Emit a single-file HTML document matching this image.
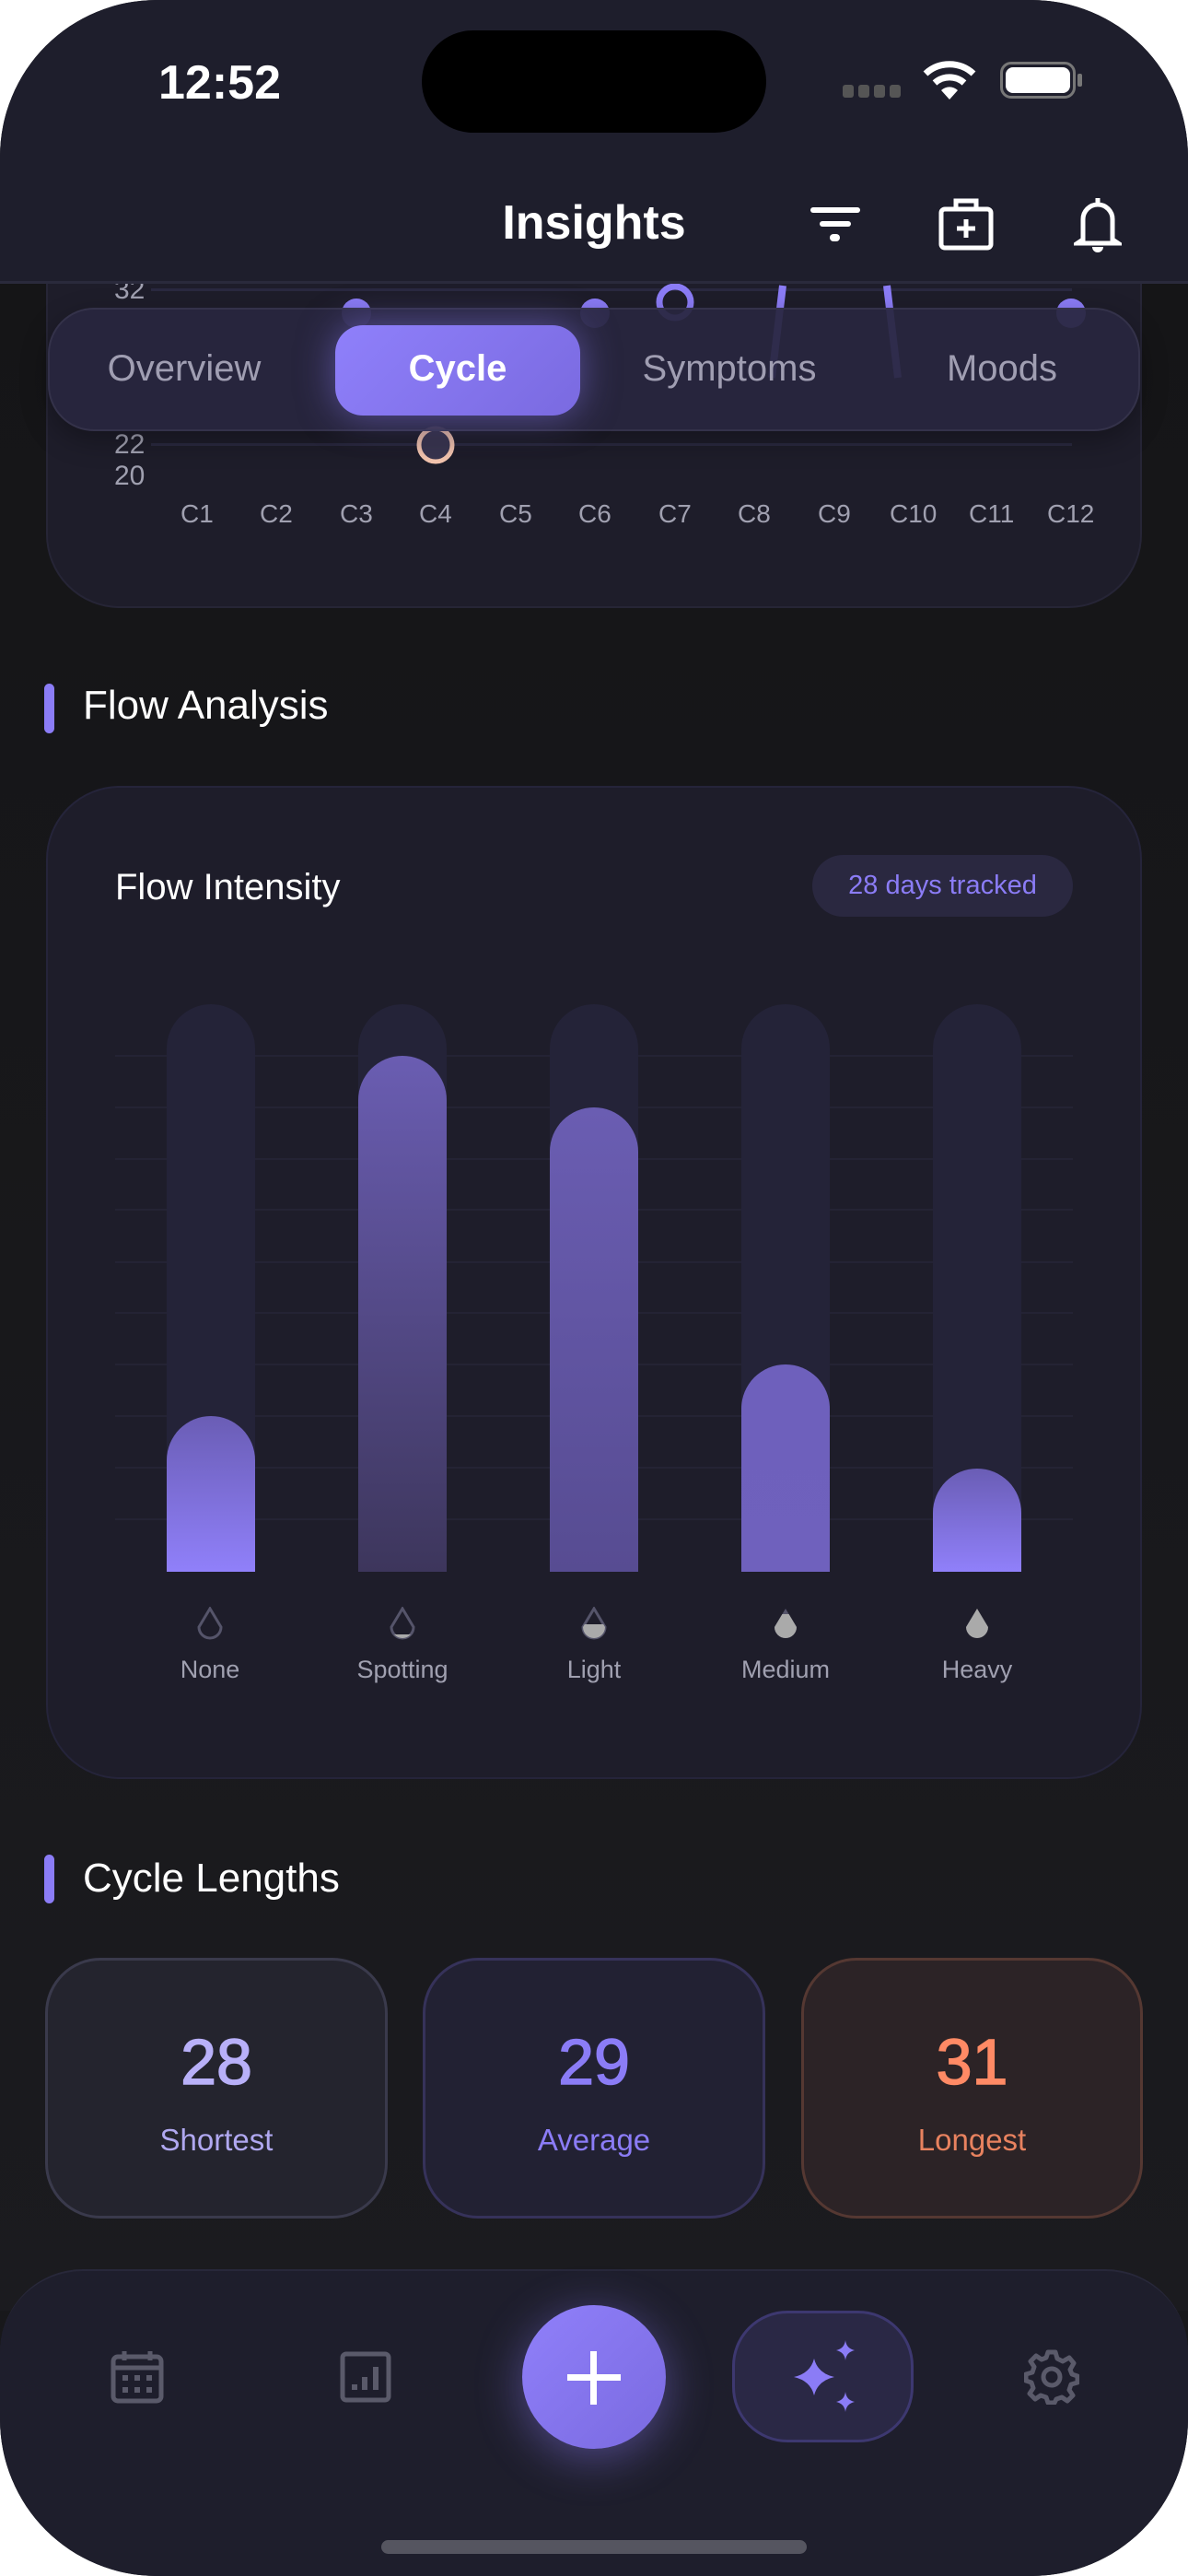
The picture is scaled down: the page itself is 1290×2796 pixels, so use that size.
<!DOCTYPE html>
<html><head><meta charset="utf-8"><style>
*{margin:0;padding:0;box-sizing:border-box}
body{width:1290px;height:2796px;background:#fff;font-family:"Liberation Sans",sans-serif;overflow:hidden;position:relative}
.phone{position:absolute;left:0;top:0;width:1290px;height:2796px;border-radius:170px;overflow:hidden;background:#18181b}
.a{position:absolute}
.t{position:absolute;white-space:nowrap}
</style></head><body>
<div class="phone">
  <div class="a" style="left:0;top:308px;width:1290px;height:2200px;background:linear-gradient(#151517,#1b1b1f)"></div>
  <div class="a" style="left:50px;top:120px;width:1190px;height:540px;border-radius:80px;background:#1e1d2a;border:2px solid #262536"></div>
  <div class="a" style="left:164px;top:313px;width:1000px;height:3px;background:#2a2940"></div>
  <div class="a" style="left:164px;top:481px;width:1000px;height:3px;background:#2a2940"></div>
  <div class="t" style="left:124px;top:298px;font-size:30px;color:#a0a0b0">32</div>
  <div class="t" style="left:124px;top:466px;font-size:30px;color:#a0a0b0">22</div>
  <div class="t" style="left:124px;top:500px;font-size:30px;color:#a0a0b0">20</div>
  <svg class="a" style="left:0;top:300px" width="1290" height="220">
    <line x1="850" y1="10" x2="838" y2="110" stroke="#8b7cf6" stroke-width="8"/>
    <line x1="963" y1="10" x2="975" y2="110" stroke="#8b7cf6" stroke-width="8"/>
    <circle cx="387" cy="40" r="16" fill="#8b7cf6"/>
    <circle cx="646" cy="40" r="16" fill="#8b7cf6"/>
    <circle cx="733" cy="28" r="17" fill="none" stroke="#8b7cf6" stroke-width="7"/>
    <circle cx="1163" cy="40" r="16" fill="#8b7cf6"/>
    <circle cx="473" cy="183" r="18" fill="#3a3650" stroke="#f5c6b0" stroke-width="5"/>
  </svg>
  <div class="t" style="left:0;top:542px;width:1290px;height:40px;font-size:28px;color:#a0a0b0">
    <span class="t" style="left:196px">C1</span><span class="t" style="left:282px">C2</span><span class="t" style="left:369px">C3</span><span class="t" style="left:455px">C4</span><span class="t" style="left:542px">C5</span><span class="t" style="left:628px">C6</span><span class="t" style="left:715px">C7</span><span class="t" style="left:801px">C8</span><span class="t" style="left:888px">C9</span><span class="t" style="left:966px">C10</span><span class="t" style="left:1052px">C11</span><span class="t" style="left:1137px">C12</span>
  </div>
  <div class="a" style="left:52px;top:334px;width:1186px;height:134px;border-radius:50px;background:rgba(40,38,62,0.93);border:2px solid #34324a;box-shadow:0 10px 30px rgba(0,0,0,.3)"></div>
  <div class="a" style="left:364px;top:353px;width:266px;height:98px;border-radius:30px;background:linear-gradient(135deg,#8f80fb,#7a6ae0);box-shadow:0 0 40px rgba(139,124,246,.5)"></div>
  <div class="t" style="left:0;top:378px;width:400px;text-align:center;font-size:40px;color:#a09eb2">Overview</div>
  <div class="t" style="left:364px;top:378px;width:266px;text-align:center;font-size:40px;font-weight:bold;color:#fff">Cycle</div>
  <div class="t" style="left:642px;top:378px;width:300px;text-align:center;font-size:40px;color:#a09eb2">Symptoms</div>
  <div class="t" style="left:988px;top:378px;width:200px;text-align:center;font-size:40px;color:#a09eb2">Moods</div>
  <div class="a" style="left:0;top:0;width:1290px;height:308px;background:#1e1e2c;border-bottom:3px solid #2a2a3c"></div>
  <div class="t" style="left:172px;top:60px;font-size:52px;font-weight:bold;color:#fff">12:52</div>
  <div class="a" style="left:458px;top:33px;width:374px;height:111px;border-radius:56px;background:#000"></div>
  <div class="a" style="left:915px;top:92px;width:12px;height:14px;border-radius:3px;background:#555"></div>
  <div class="a" style="left:932px;top:92px;width:12px;height:14px;border-radius:3px;background:#555"></div>
  <div class="a" style="left:949px;top:92px;width:12px;height:14px;border-radius:3px;background:#555"></div>
  <div class="a" style="left:966px;top:92px;width:12px;height:14px;border-radius:3px;background:#555"></div>
  <svg class="a" style="left:1002px;top:64px" width="58" height="46" viewBox="0 0 58 46"><path d="M3 16 A38 38 0 0 1 55 16" fill="none" stroke="#fff" stroke-width="7"/><path d="M13 26 A24 24 0 0 1 45 26" fill="none" stroke="#fff" stroke-width="7"/><path d="M29 44 L20 34 A13 13 0 0 1 38 34 Z" fill="#fff"/></svg>
  <div class="a" style="left:1086px;top:67px;width:82px;height:40px;border-radius:12px;border:3px solid #777"></div>
  <div class="a" style="left:1092px;top:73px;width:70px;height:28px;border-radius:8px;background:#fff"></div>
  <div class="a" style="left:1170px;top:80px;width:5px;height:14px;border-radius:2px;background:#777"></div>
  <div class="t" style="left:0;top:212px;width:1290px;text-align:center;font-size:52px;font-weight:bold;color:#fff">Insights</div>
  <div class="a" style="left:880px;top:225px;width:54px;height:6px;border-radius:3px;background:#fff"></div>
  <div class="a" style="left:890px;top:240px;width:34px;height:6px;border-radius:3px;background:#fff"></div>
  <div class="a" style="left:901px;top:254px;width:11px;height:8px;border-radius:4px;background:#fff"></div>
  <svg class="a" style="left:1018px;top:213px" width="62" height="60" viewBox="0 0 62 60"><rect x="4" y="14" width="54" height="42" rx="4" fill="none" stroke="#fff" stroke-width="5"/><path d="M20 14 V5 H42 V14" fill="none" stroke="#fff" stroke-width="5"/><path d="M31 25 V45 M21 35 H41" stroke="#fff" stroke-width="5"/></svg>
  <svg class="a" style="left:1166px;top:212px" width="52" height="62" viewBox="0 0 52 62"><path d="M26 3 V8 M10 48 V26 A16 16 0 0 1 42 26 V48 L48 52 H4 L10 48 Z" fill="none" stroke="#fff" stroke-width="5"/><path d="M20 56 A6 6 0 0 0 32 56" fill="#fff"/></svg>
  <div class="a" style="left:48px;top:742px;width:11px;height:54px;border-radius:6px;background:#8b7cf6"></div>
  <div class="t" style="left:90px;top:741px;font-size:44px;color:#fff">Flow Analysis</div>
  <div class="a" style="left:50px;top:853px;width:1190px;height:1078px;border-radius:80px;background:#1e1d2a;border:2px solid #25243a"></div>
  <div class="t" style="left:125px;top:941px;font-size:40px;color:#fff">Flow Intensity</div>
  <div class="a" style="left:882px;top:928px;width:283px;height:67px;border-radius:34px;background:#2a2840"></div>
  <div class="t" style="left:882px;top:945px;width:283px;text-align:center;font-size:29px;color:#8b7cf6">28 days tracked</div>
  <svg class="a" style="left:0;top:1080px" width="1290" height="640">
    <defs>
      <linearGradient id="g1" x1="0" y1="0" x2="0" y2="1"><stop offset="0" stop-color="#6a5db5"/><stop offset="1" stop-color="#9080fa"/></linearGradient>
      <linearGradient id="g2" x1="0" y1="0" x2="0" y2="1"><stop offset="0" stop-color="#6a5db2"/><stop offset="1" stop-color="#3d365c"/></linearGradient>
      <linearGradient id="g3" x1="0" y1="0" x2="0" y2="1"><stop offset="0" stop-color="#6a5db2"/><stop offset="1" stop-color="#574c92"/></linearGradient>
      <linearGradient id="g4" x1="0" y1="0" x2="0" y2="1"><stop offset="0" stop-color="#6e60bc"/><stop offset="1" stop-color="#6f61bd"/></linearGradient>
    </defs>
    <g stroke="#242334" stroke-width="2">
      <line x1="125" y1="66" x2="1165" y2="66"/><line x1="125" y1="122" x2="1165" y2="122"/><line x1="125" y1="178" x2="1165" y2="178"/><line x1="125" y1="233" x2="1165" y2="233"/><line x1="125" y1="290" x2="1165" y2="290"/><line x1="125" y1="345" x2="1165" y2="345"/><line x1="125" y1="401" x2="1165" y2="401"/><line x1="125" y1="457" x2="1165" y2="457"/><line x1="125" y1="513" x2="1165" y2="513"/><line x1="125" y1="569" x2="1165" y2="569"/>
    </g>
    <g fill="#242338">
      <path d="M181 58 a48 48 0 0 1 96 0 V626 H181Z"/>
      <path d="M389 58 a48 48 0 0 1 96 0 V626 H389Z"/>
      <path d="M597 58 a48 48 0 0 1 96 0 V626 H597Z"/>
      <path d="M805 58 a48 48 0 0 1 96 0 V626 H805Z"/>
      <path d="M1013 58 a48 48 0 0 1 96 0 V626 H1013Z"/>
    </g>
    <path d="M181 505 a48 48 0 0 1 96 0 V626 H181Z" fill="url(#g1)"/>
    <path d="M389 114 a48 48 0 0 1 96 0 V626 H389Z" fill="url(#g2)"/>
    <path d="M597 170 a48 48 0 0 1 96 0 V626 H597Z" fill="url(#g3)"/>
    <path d="M805 449 a48 48 0 0 1 96 0 V626 H805Z" fill="url(#g4)"/>
    <path d="M1013 562 a48 48 0 0 1 96 0 V626 H1013Z" fill="url(#g1)"/>
  </svg>
  <svg class="a" style="left:0;top:1744px" width="1290" height="40" viewBox="0 0 1290 40">
    <defs><clipPath id="d"><path d="M0 0 L-12 20 A12 12 0 0 0 12 20 Z"/></clipPath></defs>
    <g transform="translate(228,2)"><path d="M0 0 L-12 20 A12 12 0 0 0 12 20 Z" fill="none" stroke="#55546a" stroke-width="3"/></g>
    <g transform="translate(437,2)"><path d="M0 0 L-12 20 A12 12 0 0 0 12 20 Z" fill="none" stroke="#55546a" stroke-width="3"/><rect x="-13" y="28" width="26" height="6" fill="#aaa" clip-path="url(#d)"/></g>
    <g transform="translate(645,2)"><path d="M0 0 L-12 20 A12 12 0 0 0 12 20 Z" fill="none" stroke="#55546a" stroke-width="3"/><rect x="-13" y="17" width="26" height="18" fill="#aaa" clip-path="url(#d)"/></g>
    <g transform="translate(853,2)"><path d="M0 0 L-12 20 A12 12 0 0 0 12 20 Z" fill="#55546a"/><rect x="-13" y="6" width="26" height="30" fill="#aaa" clip-path="url(#d)"/></g>
    <g transform="translate(1061,2)"><path d="M0 0 L-12 20 A12 12 0 0 0 12 20 Z" fill="#aaa"/></g>
  </svg>
  <div class="t" style="left:128px;top:1797px;width:200px;text-align:center;font-size:27px;color:#a0a0b0">None</div>
  <div class="t" style="left:337px;top:1797px;width:200px;text-align:center;font-size:27px;color:#a0a0b0">Spotting</div>
  <div class="t" style="left:545px;top:1797px;width:200px;text-align:center;font-size:27px;color:#a0a0b0">Light</div>
  <div class="t" style="left:753px;top:1797px;width:200px;text-align:center;font-size:27px;color:#a0a0b0">Medium</div>
  <div class="t" style="left:961px;top:1797px;width:200px;text-align:center;font-size:27px;color:#a0a0b0">Heavy</div>
  <div class="a" style="left:48px;top:2013px;width:11px;height:53px;border-radius:6px;background:#8b7cf6"></div>
  <div class="t" style="left:90px;top:2014px;font-size:44px;color:#fff">Cycle Lengths</div>
  <div class="a" style="left:49px;top:2125px;width:372px;height:283px;border-radius:60px;background:#24242e;border:3px solid #3a3a4c"></div>
  <div class="a" style="left:459px;top:2125px;width:372px;height:283px;border-radius:60px;background:#222133;border:3px solid #36325a"></div>
  <div class="a" style="left:870px;top:2125px;width:371px;height:283px;border-radius:60px;background:#2c2326;border:3px solid #553832"></div>
  <div class="t" style="left:49px;top:2198px;width:372px;text-align:center;font-size:70px;color:#b8b0f8;-webkit-text-stroke:1.5px #b8b0f8">28</div>
  <div class="t" style="left:459px;top:2198px;width:372px;text-align:center;font-size:70px;color:#8b7cf6;-webkit-text-stroke:1.5px #8b7cf6">29</div>
  <div class="t" style="left:870px;top:2198px;width:371px;text-align:center;font-size:70px;color:#ff8a65;-webkit-text-stroke:1.5px #ff8a65">31</div>
  <div class="t" style="left:49px;top:2304px;width:372px;text-align:center;font-size:33px;color:#b0a8f0">Shortest</div>
  <div class="t" style="left:459px;top:2304px;width:372px;text-align:center;font-size:33px;color:#8b7cf6">Average</div>
  <div class="t" style="left:870px;top:2304px;width:371px;text-align:center;font-size:33px;color:#e8825f">Longest</div>
  <div class="a" style="left:0;top:2463px;width:1290px;height:340px;border-radius:90px 90px 0 0;background:#1e1e2c;border-top:2px solid #28283a"></div>
  <svg class="a" style="left:120px;top:2550px" width="58" height="60" viewBox="0 0 58 60"><rect x="3" y="8" width="52" height="48" rx="5" fill="none" stroke="#5a5a6a" stroke-width="5"/><path d="M3 20 H55 M15 2 V12 M43 2 V12" stroke="#5a5a6a" stroke-width="5"/><g fill="#5a5a6a"><rect x="13" y="28" width="6" height="6"/><rect x="26" y="28" width="6" height="6"/><rect x="39" y="28" width="6" height="6"/><rect x="13" y="41" width="6" height="6"/><rect x="26" y="41" width="6" height="6"/><rect x="39" y="41" width="6" height="6"/></g></svg>
  <svg class="a" style="left:369px;top:2552px" width="56" height="56" viewBox="0 0 56 56"><rect x="3" y="3" width="50" height="50" rx="4" fill="none" stroke="#5a5a6a" stroke-width="5"/><path d="M16 42 V36 M27 42 V28 M39 42 V17" stroke="#5a5a6a" stroke-width="6"/></svg>
  <div class="a" style="left:567px;top:2502px;width:156px;height:156px;border-radius:78px;background:linear-gradient(135deg,#9080fa,#7a6ae0);box-shadow:0 10px 50px rgba(139,124,246,.45)"></div>
  <div class="a" style="left:616px;top:2577px;width:58px;height:7px;background:#fff"></div>
  <div class="a" style="left:641px;top:2552px;width:7px;height:58px;background:#fff"></div>
  <div class="a" style="left:795px;top:2508px;width:197px;height:143px;border-radius:60px;background:#2a2845;border:3px solid #3d3870"></div>
  <svg class="a" style="left:858px;top:2538px" width="80" height="84" viewBox="0 0 80 84"><path d="M26 22 Q30 38 48 42 Q30 46 26 62 Q22 46 4 42 Q22 38 26 22Z" fill="#8b7cf6"/><path d="M60 2 Q61 11 70 13 Q61 15 60 24 Q59 15 50 13 Q59 11 60 2Z" fill="#8b7cf6"/><path d="M60 58 Q61 67 70 69 Q61 71 60 80 Q59 71 50 69 Q59 67 60 58Z" fill="#8b7cf6"/></svg>
  <svg class="a" style="left:1112px;top:2550px" width="60" height="60" viewBox="0 0 60 60"><circle cx="30" cy="30" r="9" fill="none" stroke="#5a5a6a" stroke-width="5"/><path d="M26 3 H34 L36 10 L42 13 L49 9 L54 15 L50 22 L52 27 L58 29 V36 L51 38 L49 44 L53 50 L47 56 L41 52 L35 54 L33 58 H26 L24 52 L18 50 L12 54 L6 48 L10 42 L8 36 L2 34 V27 L9 25 L11 19 L7 13 L13 7 L19 11 L24 9 Z" fill="none" stroke="#5a5a6a" stroke-width="5" stroke-linejoin="round"/></svg>
  <div class="a" style="left:414px;top:2757px;width:462px;height:15px;border-radius:8px;background:#555560"></div>
</div>
</body></html>
